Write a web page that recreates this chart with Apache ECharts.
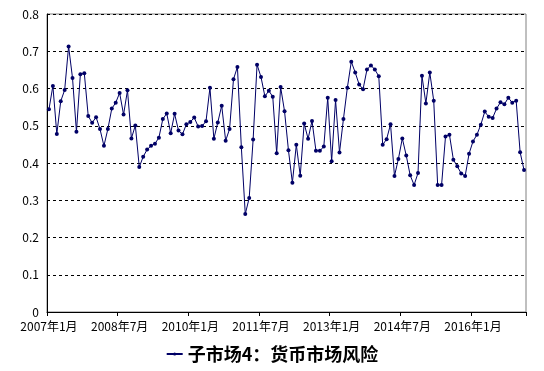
<!DOCTYPE html>
<html><head><meta charset="utf-8">
<script src="https://cdn.jsdelivr.net/npm/echarts@6/dist/echarts.min.js"></script>
<style>html,body{margin:0;padding:0;background:#fff}#c{width:544px;height:371px}</style>
</head><body><div id="c"></div>
<script>
const startYear = 2007;
const monthCount = 122;
const categories = [];
for (let i = 0; i < monthCount; i++) {
  const y = startYear + Math.floor(i / 12);
  const m = (i % 12) + 1;
  categories.push(y + '年' + m + '月');
}
const seriesName = '子市场4：货币市场风险';
const values = [
  0.544,0.607,0.478,0.566,0.596,0.713,0.628,0.484,0.638,0.641,0.526,0.508,
  0.523,0.491,0.446,0.491,0.546,0.562,0.588,0.530,0.595,0.466,0.501,0.389,
  0.417,0.436,0.446,0.452,0.468,0.518,0.533,0.480,0.532,0.487,0.477,0.504,
  0.510,0.522,0.498,0.499,0.512,0.602,0.465,0.509,0.554,0.460,0.491,0.625,
  0.658,0.442,0.263,0.306,0.463,0.664,0.631,0.579,0.594,0.578,0.426,0.604,
  0.539,0.434,0.347,0.449,0.366,0.506,0.465,0.513,0.433,0.433,0.444,0.575,
  0.405,0.569,0.428,0.518,0.602,0.672,0.643,0.611,0.598,0.651,0.662,0.651,
  0.633,0.449,0.464,0.504,0.365,0.411,0.466,0.420,0.367,0.341,0.373,0.634,
  0.560,0.643,0.567,0.341,0.341,0.471,0.476,0.409,0.391,0.372,0.365,0.425,
  0.458,0.476,0.503,0.538,0.524,0.521,0.546,0.563,0.558,0.575,0.562,0.567,
  0.429,0.381
];
const yTicks = [0, 0.1, 0.2, 0.3, 0.4, 0.5, 0.6, 0.7, 0.8];
const FONT = '"Noto Sans CJK SC", "DejaVu Sans", sans-serif';
const chart = echarts.init(document.getElementById('c'), null, {renderer: 'canvas'});
chart.setOption({
  animation: false,
  backgroundColor: '#fff',
  grid: {left: 47, right: 18, top: 14, bottom: 59, show: true, borderColor: '#808080', borderWidth: 1, backgroundColor: 'transparent'},
  legend: {
    show: true,
    top: 340, left: 'center', itemWidth: 16, itemHeight: 4, itemGap: 2,
    textStyle: {fontFamily: FONT, fontSize: 18, fontWeight: 'bold', color: '#000'},
    data: [seriesName]
  },
  xAxis: {
    type: 'category', data: categories, boundaryGap: true,
    axisLine: {lineStyle: {color: '#000', width: 1}},
    axisTick: {show: true, interval: 17, length: 4, inside: false, lineStyle: {color: '#000'}},
    axisLabel: {interval: 17, fontFamily: FONT, fontSize: 12, color: '#000', margin: 8},
    splitLine: {show: false}
  },
  yAxis: {
    type: 'value', min: yTicks[0], max: yTicks[yTicks.length - 1], interval: 0.1,
    axisLine: {show: true, lineStyle: {color: '#000', width: 1}},
    axisTick: {show: false},
    axisLabel: {fontFamily: FONT, fontSize: 12, color: '#000', margin: 8,
      formatter: v => String(Math.round(v * 10) / 10)},
    splitLine: {show: true, lineStyle: {color: '#000', type: [3, 3], width: 1}}
  },
  series: [{
    name: seriesName, type: 'line', data: values,
    symbol: 'circle', symbolSize: 4, showAllSymbol: true,
    lineStyle: {color: '#000066', width: 1},
    itemStyle: {color: '#000066'}
  }]
});
</script></body></html>
